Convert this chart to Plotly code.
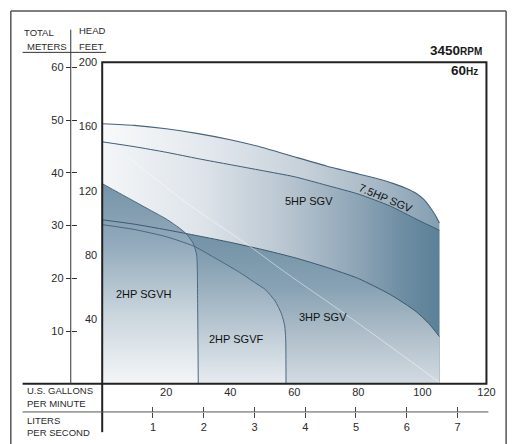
import plotly.graph_objects as go

W, H = 521, 444

# ---- data (GPM, feet of head) ----
hp75_gpm = [0, 10, 20, 30, 40, 50, 60, 70, 80, 86, 91, 95, 98, 100.5, 102.5, 104, 105.3]
hp75_ft = [161.7, 160.7, 158.6, 155.6, 151.8, 147.0, 141.2, 135.5, 130.5, 127.5, 124.5, 121.5, 118.5, 114.5, 109.5, 105.0, 100.0]

hp5_gpm = [0, 10, 20, 30, 40, 50, 60, 70, 80, 90, 98, 105.3]
hp5_ft = [150.5, 147.5, 144.0, 140.0, 136.3, 132.6, 128.8, 123.5, 118.0, 110.5, 102.5, 95.5]

hp3_gpm = [0, 10, 20, 30, 40, 50, 60, 70, 80, 90, 98, 102, 105.3]
hp3_ft = [102.0, 99.3, 95.8, 92.0, 88.0, 83.5, 78.5, 72.5, 65.5, 55.5, 45.0, 37.5, 29.4]

sgvf_gpm = [0, 10, 20, 28.5, 35, 42.9, 48, 51, 54, 56, 57, 57.3, 57.4]
sgvf_ft = [99.0, 96.0, 91.5, 85.7, 78.5, 69.3, 62.5, 58.5, 51.5, 43.5, 36.0, 28.0, 0.0]

sgvh_gpm = [0, 5, 10, 15, 20, 24, 26.5, 28.5, 29.5, 29.8, 30.0]
sgvh_ft = [124.5, 119.0, 113.5, 108.0, 102.5, 97.0, 92.8, 87.0, 80.0, 50.0, 0.0]

highlight_gpm = [8, 26.5, 45.8, 57.2, 77.8, 105.4]
highlight_ft = [141.1, 112.3, 85.9, 69.3, 40.7, 0.8]

curve_labels = ["7.5HP SGV", "5HP SGV", "3HP SGV", "2HP SGVF", "2HP SGVH"]
label_gpm = [88.5, 64.6, 69.0, 41.8, 12.9]
label_ft = [115.3, 114.0, 41.7, 27.6, 56.0]
label_angle = [23, 0, 0, 0, 0]

gpm_ticks = [20, 40, 60, 80, 100, 120]
feet_ticks = [40, 80, 120, 160, 200]
meter_ticks = [10, 20, 30, 40, 50, 60]
lps_ticks = [1, 2, 3, 4, 5, 6, 7]

FT_PER_M = 3.28084
GPM_PER_LPS = 15.850323

FONT = "Liberation Sans, Arial, sans-serif"
INK = "#2a2a2a"


def px(x):
    return x / W


def py(y):
    return 1 - y / H


fig = go.Figure()

fills = [
    (hp75_gpm, hp75_ft, "horizontal",
     [[0, "#f8f9fa"], [0.3, "#e4e9ee"], [0.6, "#c6d0d9"], [0.85, "#a1b4c2"], [1, "#839eb1"]]),
    (hp5_gpm, hp5_ft, "horizontal",
     [[0, "#f4f6f8"], [0.3, "#dde3e9"], [0.55, "#b8c5d0"], [0.75, "#8fa6b7"], [0.9, "#6c8ca2"], [1, "#5b8097"]]),
    (hp3_gpm, hp3_ft, "vertical",
     [[0, "#d3dbe2"], [0.3, "#afbec9"], [0.6, "#86a1b3"], [1, "#6e8ea3"]]),
    (sgvf_gpm, sgvf_ft, "vertical",
     [[0, "#e7ecf0"], [0.4, "#b4c3cf"], [0.75, "#88a2b4"], [1, "#6f8fa4"]]),
    (sgvh_gpm, sgvh_ft, "vertical",
     [[0, "#f4f6f8"], [0.35, "#cad5dd"], [0.7, "#92aabb"], [1, "#7693a7"]]),
]
for xs, ys, gtype, cs in fills:
    fig.add_trace(go.Scatter(
        x=xs, y=ys, mode="lines", fill="tozeroy", line=dict(width=0, shape="spline", smoothing=0.6),
        fillgradient=dict(type=gtype, colorscale=cs),
        hoverinfo="skip", showlegend=False, xaxis="x", yaxis="y"))

for xs, ys, col, w in [
    (hp75_gpm, hp75_ft, "#46627c", 1.1),
    (hp5_gpm, hp5_ft, "#3f5b76", 1.0),
    (hp3_gpm, hp3_ft, "#3d586f", 1.0),
    (sgvf_gpm, sgvf_ft, "#4a6781", 1.0),
    (sgvh_gpm, sgvh_ft, "#4a6781", 1.0),
]:
    fig.add_trace(go.Scatter(
        x=xs, y=ys, mode="lines", line=dict(color=col, width=w, shape="spline", smoothing=0.6),
        hoverinfo="skip", showlegend=False, xaxis="x", yaxis="y"))

fig.add_trace(go.Scatter(
    x=highlight_gpm, y=highlight_ft, mode="lines",
    line=dict(color="rgba(255,255,255,0.7)", width=0.7, shape="spline"),
    hoverinfo="skip", showlegend=False, xaxis="x", yaxis="y"))

annotations = []
for t, gx, fy, ang in zip(curve_labels, label_gpm, label_ft, label_angle):
    annotations.append(dict(x=gx, y=fy, xref="x", yref="y", text=t, showarrow=False,
                            textangle=ang, font=dict(family=FONT, size=11, color="#111")))


def cap(text, x, y, anchor="left", size=9.5, bold=False, color=INK):
    annotations.append(dict(x=px(x), y=py(y), xref="paper", yref="paper", text=text,
                            showarrow=False, xanchor=anchor, yanchor="middle",
                            font=dict(family=FONT, size=size, color=color,
                                      weight="bold" if bold else "normal")))


cap("TOTAL", 22, 27)
cap("METERS", 25, 41.5)
cap("HEAD", 78, 25)
cap("FEET", 78, 41)
cap("U.S. GALLONS", 25.5, 390)
cap("PER MINUTE", 25.5, 403)
cap("LITERS", 25.5, 420)
cap("PER SECOND", 25.5, 432.5)
cap("3450<span style='font-size:10px'>RPM</span>", 493, 45, anchor="right", size=13.5, bold=True, color="#1a1a1a")
cap("60<span style='font-size:10px'>Hz</span>", 488, 65, anchor="right", size=13.5, bold=True, color="#1a1a1a")

line_dark = dict(color="#222", width=2)
shapes = [
    # outer frame
    dict(type="line", xref="paper", yref="paper", x0=px(11), y0=py(5), x1=px(11), y1=py(444), line=dict(color="#555", width=1.5)),
    dict(type="line", xref="paper", yref="paper", x0=px(11), y0=py(5), x1=px(515), y1=py(5), line=dict(color="#555", width=1.5)),
    dict(type="line", xref="paper", yref="paper", x0=px(515), y0=py(5), x1=px(515), y1=py(444), line=dict(color="#555", width=1.5)),
    # plot box and extensions
    dict(type="rect", xref="paper", yref="paper", x0=px(104), y0=py(383), x1=px(495), y1=py(57), line=line_dark),
    dict(type="line", xref="paper", yref="paper", x0=px(104), y0=py(383), x1=px(104), y1=py(432), line=line_dark),
    dict(type="line", xref="paper", yref="paper", x0=px(23), y0=py(383), x1=px(104), y1=py(383), line=line_dark),
    # meters axis line
    dict(type="line", xref="paper", yref="paper", x0=px(72), y0=py(24), x1=px(72), y1=py(383), line=dict(color="#333", width=1)),
    # header underline
    dict(type="line", xref="paper", yref="paper", x0=px(23), y0=py(47), x1=px(108), y1=py(47), line=dict(color="#333", width=1)),
    # liters per second axis line
    dict(type="line", xref="paper", yref="paper", x0=px(23), y0=py(411.5), x1=px(497), y1=py(411.5), line=dict(color="#555", width=1)),
]

xdom = [px(104), px(495)]
ydom = [py(383), py(57)]
tickfont = dict(family=FONT, size=11, color=INK)

fig.update_layout(
    width=W, height=H,
    margin=dict(l=0, r=0, t=0, b=0),
    paper_bgcolor="white", plot_bgcolor="white",
    showlegend=False,
    annotations=annotations,
    shapes=shapes,
    xaxis=dict(domain=xdom, range=[0, 120], tickvals=gpm_ticks, ticks="", showgrid=False,
               zeroline=False, showline=False, tickfont=tickfont, anchor="y", fixedrange=True),
    yaxis=dict(domain=ydom, range=[0, 200], tickvals=feet_ticks, ticks="", showgrid=False,
               zeroline=False, showline=False, tickfont=tickfont, ticklabelstandoff=4,
               anchor="x", fixedrange=True),
    yaxis2=dict(overlaying="y", anchor="free", position=px(72), side="left",
                range=[0, 200 / FT_PER_M], tickvals=meter_ticks, ticks="outside", ticklen=5,
                tickcolor="#333", tickwidth=1, showgrid=False, zeroline=False, showline=False,
                tickfont=tickfont, fixedrange=True),
    yaxis3=dict(overlaying="y", anchor="free", position=px(72), side="left",
                range=[0, 200 / FT_PER_M], tickvals=meter_ticks, ticks="inside", ticklen=5,
                tickcolor="#333", tickwidth=1, showticklabels=False, showgrid=False,
                zeroline=False, showline=False, fixedrange=True),
    xaxis2=dict(overlaying="x", anchor="free", position=py(411.5), side="bottom",
                range=[0, 120 / GPM_PER_LPS], tickvals=lps_ticks, ticks="outside", ticklen=5,
                tickcolor="#444", tickwidth=1, showgrid=False, zeroline=False, showline=False,
                tickfont=tickfont, fixedrange=True),
    xaxis3=dict(overlaying="x", anchor="free", position=py(411.5), side="bottom",
                range=[0, 120 / GPM_PER_LPS], tickvals=lps_ticks, ticks="inside", ticklen=5,
                tickcolor="#444", tickwidth=1, showticklabels=False, showgrid=False,
                zeroline=False, showline=False, fixedrange=True),
)

# dummy traces so the extra axes are rendered
fig.add_trace(go.Scatter(x=[None], y=[None], xaxis="x", yaxis="y2", showlegend=False, hoverinfo="skip"))
fig.add_trace(go.Scatter(x=[None], y=[None], xaxis="x", yaxis="y3", showlegend=False, hoverinfo="skip"))
fig.add_trace(go.Scatter(x=[None], y=[None], xaxis="x2", yaxis="y", showlegend=False, hoverinfo="skip"))
fig.add_trace(go.Scatter(x=[None], y=[None], xaxis="x3", yaxis="y", showlegend=False, hoverinfo="skip"))

fig.write_html("out.html", config={"displayModeBar": False},
               post_script="document.body.style.margin='0';document.body.style.padding='0';"
                           "document.body.style.overflow='hidden';")
